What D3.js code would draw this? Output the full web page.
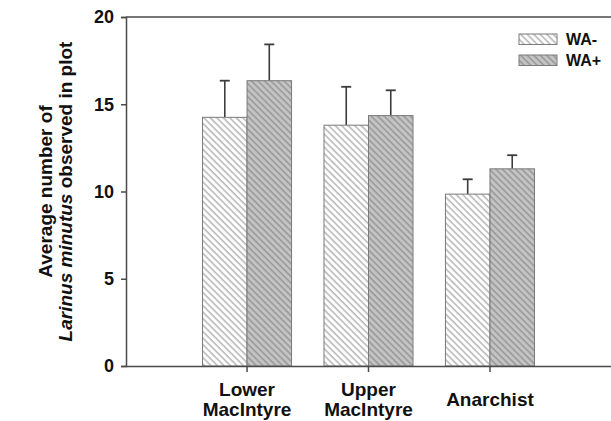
<!DOCTYPE html>
<html>
<head>
<meta charset="utf-8">
<script src="https://cdn.jsdelivr.net/npm/d3@7"></script>
<style>
  body { margin: 0; background: #fff; }
  svg { display: block; font-family: "Liberation Sans", Arial, sans-serif; }
</style>
</head>
<body>
<div id="chart"></div>
<script>
const sites = [["Lower", "MacIntyre"], ["Upper", "MacIntyre"], ["Anarchist"]];
const siteKeys = ["Lower MacIntyre", "Upper MacIntyre", "Anarchist"];
const treatments = ["WA-", "WA+"];
const waMinusMean = [14.25, 13.8, 9.85];
const waMinusSe = [2.1, 2.2, 0.85];
const waPlusMean = [16.35, 14.35, 11.3];
const waPlusSe = [2.08, 1.45, 0.78];
const yTicks = [0, 5, 10, 15, 20];

const width = 611, height = 421;
const plotLeft = 126, plotRight = 611, plotTop = 17, plotBottom = 366;
const axisColor = "#4a4a4a";

const svg = d3.select("#chart").append("svg")
    .attr("width", width)
    .attr("height", height);

// hatch patterns
const defs = svg.append("defs");
function hatch(id, bg, lineColor) {
    const p = defs.append("pattern")
        .attr("id", id)
        .attr("patternUnits", "userSpaceOnUse")
        .attr("width", 4.6)
        .attr("height", 4.6)
        .attr("patternTransform", "rotate(-45)");
    p.append("rect").attr("width", 4.6).attr("height", 4.6).attr("fill", bg);
    p.append("line")
        .attr("x1", 1).attr("y1", 0).attr("x2", 1).attr("y2", 4.6)
        .attr("stroke", lineColor).attr("stroke-width", 1.1);
}
hatch("hatch-minus", "#ffffff", "#9a9a9a");
hatch("hatch-plus", "#c4c4c4", "#858585");

const x = d3.scaleBand()
    .domain(siteKeys)
    .range([plotLeft, plotRight])
    .paddingInner(0.267)
    .paddingOuter(0.63);
const x1 = d3.scaleBand()
    .domain(treatments)
    .range([0, x.bandwidth()]);
const y = d3.scaleLinear()
    .domain([0, 20])
    .range([plotBottom, plotTop]);

const rows = [];
siteKeys.forEach((s, i) => {
    rows.push({ site: s, t: "WA-", mean: waMinusMean[i], se: waMinusSe[i] });
    rows.push({ site: s, t: "WA+", mean: waPlusMean[i], se: waPlusSe[i] });
});

// frame top line
svg.append("line")
    .attr("x1", plotLeft).attr("x2", plotRight)
    .attr("y1", plotTop).attr("y2", plotTop)
    .attr("stroke", axisColor).attr("stroke-width", 1.5);

// error bars (upper only)
const err = svg.selectAll(".err")
    .data(rows)
    .enter().append("g")
    .attr("class", "err")
    .attr("transform", d => `translate(${x(d.site) + x1(d.t) + x1.bandwidth() / 2},0)`);
err.append("line")
    .attr("y1", d => y(d.mean)).attr("y2", d => y(d.mean + d.se))
    .attr("stroke", "#3c3c3c").attr("stroke-width", 1.6);
err.append("line")
    .attr("x1", -5).attr("x2", 5)
    .attr("y1", d => y(d.mean + d.se)).attr("y2", d => y(d.mean + d.se))
    .attr("stroke", "#3c3c3c").attr("stroke-width", 1.8);

// bars
svg.selectAll(".bar")
    .data(rows)
    .enter().append("rect")
    .attr("class", "bar")
    .attr("x", d => x(d.site) + x1(d.t))
    .attr("width", x1.bandwidth())
    .attr("y", d => y(d.mean))
    .attr("height", d => y(0) - y(d.mean))
    .attr("fill", d => d.t === "WA-" ? "url(#hatch-minus)" : "url(#hatch-plus)")
    .attr("stroke", "#7a7a7a")
    .attr("stroke-width", 1);

// y axis
const yAxis = svg.append("g")
    .attr("transform", `translate(${plotLeft},0)`)
    .call(d3.axisLeft(y).tickValues(yTicks).tickSize(5).tickPadding(7));
yAxis.selectAll("text")
    .attr("font-size", 18).attr("font-weight", "bold").attr("fill", "#111");

// x axis
const xAxis = svg.append("g")
    .attr("transform", `translate(0,${plotBottom})`)
    .call(d3.axisBottom(x).tickSize(6).tickFormat(""));
xAxis.select(".domain").attr("d", `M${plotLeft},0.5H${plotRight}`);

[yAxis, xAxis].forEach(a => {
    a.selectAll(".domain, .tick line").attr("stroke", axisColor).attr("stroke-width", 1.5);
});

// x category labels
svg.selectAll(".xlab")
    .data(sites)
    .enter().append("text")
    .attr("class", "xlab")
    .attr("x", (d, i) => x(siteKeys[i]) + x.bandwidth() / 2)
    .attr("y", d => d.length > 1 ? 396 : 406)
    .attr("text-anchor", "middle")
    .attr("font-size", 19)
    .attr("font-weight", "bold")
    .attr("fill", "#111")
    .selectAll("tspan")
    .data(d => d)
    .enter().append("tspan")
    .attr("x", function () { return this.parentNode.getAttribute("x"); })
    .attr("dy", (d, i) => i === 0 ? 0 : 20)
    .text(d => d);

// y axis title
const yTitle = svg.append("text")
    .attr("transform", `translate(0,${(plotTop + plotBottom) / 2}) rotate(-90)`)
    .attr("text-anchor", "middle")
    .attr("font-size", 19)
    .attr("font-weight", "bold")
    .attr("fill", "#111");
yTitle.append("tspan").attr("x", 0).attr("y", 52).text("Average number of");
const l2 = yTitle.append("tspan").attr("x", 0).attr("y", 72);
l2.append("tspan").attr("font-style", "italic").text("Larinus minutus");
l2.append("tspan").text(" observed in plot");

// legend
const legend = svg.selectAll(".legend")
    .data(treatments)
    .enter().append("g")
    .attr("class", "legend")
    .attr("transform", (d, i) => `translate(519,${34 + i * 21})`);
legend.append("rect")
    .attr("width", 38).attr("height", 10.5)
    .attr("fill", d => d === "WA-" ? "url(#hatch-minus)" : "url(#hatch-plus)")
    .attr("stroke", "#7a7a7a").attr("stroke-width", 1);
legend.append("text")
    .attr("x", 47).attr("y", 11)
    .attr("font-size", 16).attr("font-weight", "bold").attr("fill", "#111")
    .text(d => d);
</script>
</body>
</html>
